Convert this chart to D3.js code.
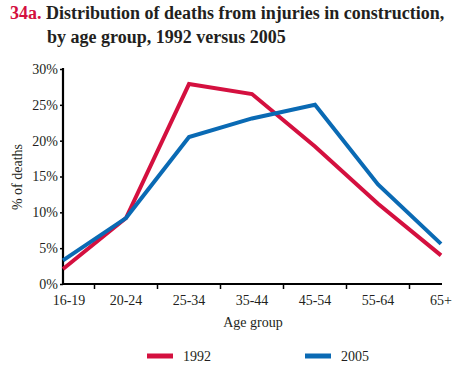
<!DOCTYPE html>
<html>
<head>
<meta charset="utf-8">
<script src="https://cdn.jsdelivr.net/npm/d3@7"></script>
<style>
  body { margin: 0; background: #fff; }
  text { font-family: "Liberation Serif", "Times New Roman", serif; }
</style>
</head>
<body>
<svg id="chart" width="464" height="368"></svg>
<script>
// age groups along the x axis
var ageGroups = ["16-19", "20-24", "25-34", "35-44", "45-54", "55-64", "65+"];
// percent of deaths
var deaths1992 = [2.1, 9.2, 27.9, 26.5, 19.2, 11.2, 4.0];
var deaths2005 = [3.3, 9.2, 20.5, 23.1, 25.0, 13.9, 5.6];
var seriesNames = ["1992", "2005"];
var yTicks = [0, 5, 10, 15, 20, 25, 30];

var red = "#d4103f", blue = "#0a6ab4";

var svg = d3.select("#chart");
var x0 = 63, x1 = 441, yTop = 69, yBot = 284;

var x = d3.scalePoint().domain(ageGroups).range([x0, x1]);
var y = d3.scaleLinear().domain([0, 30]).range([yBot, yTop]);

// title
var title = svg.append("text").attr("x", 10).attr("y", 19)
    .style("font-size", "18px").style("font-weight", "bold");
title.append("tspan").attr("fill", red).text("34a. ");
title.append("tspan").attr("fill", "#231f20").text("Distribution of deaths from injuries in construction,");
svg.append("text").attr("x", 47).attr("y", 43)
    .style("font-size", "18px").style("font-weight", "bold").attr("fill", "#231f20")
    .text("by age group, 1992 versus 2005");

// y axis
var yAxis = svg.append("g").attr("transform", "translate(" + x0 + ",0)")
    .call(d3.axisLeft(y).tickValues(yTicks).tickSize(3).tickPadding(2)
        .tickFormat(function(d) { return d + "%"; }));
yAxis.select(".domain").attr("d", "M0," + (yTop - 1) + "V" + (yBot + 1)).attr("stroke-width", 2.2);
yAxis.selectAll(".tick line").attr("stroke-width", 1.5);
yAxis.selectAll("text").style("font-size", "14px").attr("fill", "#231f20")
    .style("font-family", "Liberation Serif");

// x axis, ticks sit between groups
var step = x.step();
var xTickPos = ageGroups.slice(1).map(function(d) { return x(d) - step / 2; });
var xAxisG = svg.append("g").attr("transform", "translate(0," + yBot + ")");
xAxisG.append("line").attr("x1", x0 - 1).attr("x2", x1 + 1)
    .attr("stroke", "#000").attr("stroke-width", 2.2);
xAxisG.selectAll("line.tk").data(xTickPos).enter().append("line").attr("class", "tk")
    .attr("x1", function(d) { return d; }).attr("x2", function(d) { return d; })
    .attr("y1", 0).attr("y2", 5).attr("stroke", "#000").attr("stroke-width", 1.5);
xAxisG.selectAll("text").data(ageGroups).enter().append("text")
    .attr("x", function(d, i) { return x(d) + (i == 0 ? 6 : 0); })
    .attr("y", 21).attr("text-anchor", "middle")
    .style("font-size", "14px").attr("fill", "#231f20")
    .text(function(d) { return d; });

// axis titles
svg.append("text").attr("transform", "translate(22,177) rotate(-90)")
    .attr("text-anchor", "middle").style("font-size", "14px").attr("fill", "#231f20")
    .text("% of deaths");
svg.append("text").attr("x", 253).attr("y", 327).attr("text-anchor", "middle")
    .style("font-size", "14px").attr("fill", "#231f20").text("Age group");

// lines
var line = d3.line()
    .x(function(d, i) { return x(ageGroups[i]); })
    .y(function(d) { return y(d); });

svg.append("path").datum(deaths1992).attr("d", line)
    .attr("fill", "none").attr("stroke", red).attr("stroke-width", 4);
svg.append("path").datum(deaths2005).attr("d", line)
    .attr("fill", "none").attr("stroke", blue).attr("stroke-width", 4);

// legend
var legend = svg.selectAll("g.legend").data(seriesNames).enter().append("g")
    .attr("class", "legend")
    .attr("transform", function(d, i) { return "translate(" + (147 + i * 158) + ",356)"; });
legend.append("line").attr("x1", 0).attr("x2", 26)
    .attr("stroke", function(d, i) { return i == 0 ? red : blue; })
    .attr("stroke-width", 5);
legend.append("text").attr("x", 36).attr("y", 5)
    .style("font-size", "14px").attr("fill", "#231f20")
    .text(function(d) { return d; });
</script>
</body>
</html>
